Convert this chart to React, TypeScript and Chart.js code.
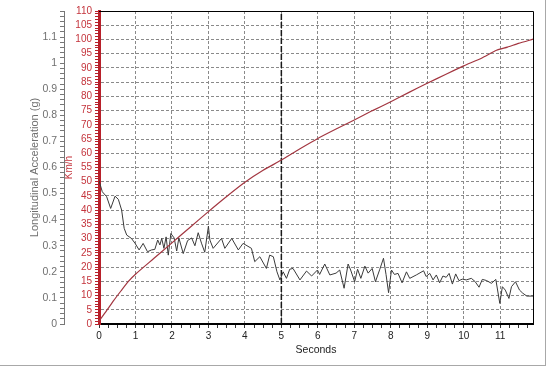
import React, { useEffect, useRef } from "react";
import { Chart, registerables } from "chart.js";

Chart.register(...registerables);

// Longitudinal acceleration (g) vs time (s)
const accelTime = [
  0.0, 0.09, 0.21, 0.32, 0.44, 0.53, 0.62, 0.69, 0.76, 0.89, 0.99, 1.1, 1.21, 1.33, 1.44, 1.53,
  1.61, 1.67, 1.72, 1.78, 1.84, 1.9, 1.97, 2.06, 2.13, 2.19, 2.31, 2.43, 2.54, 2.63, 2.72, 2.81,
  2.9, 3.0, 3.04, 3.13, 3.36, 3.45, 3.64, 3.82, 3.95, 4.18, 4.27, 4.41, 4.59, 4.68, 4.78, 4.88,
  4.96, 5.05, 5.14, 5.23, 5.32, 5.51, 5.69, 5.83, 5.99, 6.05, 6.19, 6.33, 6.5, 6.6, 6.72, 6.83,
  6.9, 7.01, 7.09, 7.18, 7.29, 7.38, 7.49, 7.58, 7.7, 7.8, 7.87, 7.94, 8.02, 8.1, 8.2, 8.31,
  8.43, 8.52, 8.7, 8.9, 8.97, 9.07, 9.16, 9.25, 9.34, 9.43, 9.52, 9.6, 9.69, 9.78, 9.87, 9.96,
  10.07, 10.21, 10.31, 10.42, 10.51, 10.62, 10.76, 10.88, 10.99, 11.06, 11.14, 11.24, 11.31,
  11.42, 11.53, 11.62, 11.73, 11.9,
];
const accelG = [
  0.55, 0.507, 0.488, 0.443, 0.49, 0.478, 0.437, 0.367, 0.341, 0.328, 0.309, 0.284, 0.309, 0.277,
  0.284, 0.286, 0.322, 0.303, 0.328, 0.29, 0.334, 0.264, 0.347, 0.33, 0.28, 0.33, 0.27, 0.32,
  0.33, 0.3, 0.35, 0.31, 0.275, 0.375, 0.322, 0.29, 0.328, 0.29, 0.328, 0.284, 0.309, 0.29, 0.239,
  0.258, 0.213, 0.264, 0.258, 0.2, 0.169, 0.2, 0.175, 0.21, 0.213, 0.169, 0.203, 0.184, 0.207,
  0.19, 0.23, 0.188, 0.195, 0.207, 0.137, 0.23, 0.207, 0.162, 0.21, 0.175, 0.222, 0.195, 0.213,
  0.162, 0.21, 0.252, 0.19, 0.12, 0.207, 0.19, 0.194, 0.158, 0.2, 0.175, 0.188, 0.204, 0.182,
  0.194, 0.169, 0.188, 0.158, 0.184, 0.179, 0.194, 0.153, 0.192, 0.166, 0.172, 0.169, 0.175,
  0.163, 0.141, 0.171, 0.167, 0.156, 0.171, 0.079, 0.143, 0.13, 0.098, 0.143, 0.162, 0.13, 0.118,
  0.107, 0.107,
];

// Speed (km/h) vs time (s)
const speedTime = [
  0, 0.2, 0.4, 0.6, 0.8, 1.0, 1.5, 2.0, 2.5, 3.0, 3.5, 4.0, 4.5, 5.0, 5.5, 6.0, 6.5, 7.0, 7.5,
  8.0, 8.5, 9.0, 9.5, 10.0, 10.5, 10.9, 11.2, 11.5, 11.9,
];
const speedKmh = [
  1, 4.5, 8.2, 11.6, 14.9, 17.5, 23, 28.5, 34, 39.5, 44.8, 49.8, 54, 57.6, 61.5, 65.2, 68.5, 71.7,
  75, 78.1, 81.4, 84.6, 87.7, 90.7, 93.5, 96.2, 97.3, 98.6, 100.1,
];

// Cursor marker
const cursorTime = 5;

// Axis ranges
const timeMax = 11.9;
const gMax = 1.2;
const kmhMax = 110;

const FONT = "'Liberation Sans', Arial, sans-serif";
const RED_TEXT = "#c4343c";
const RED_AXIS = "#b8202a";
const RED_LINE = "#a33640";
const GRID = "#8a8a8a";
const GRAY_TEXT = "#707070";

const isWhole = (v: number, step: number) => Math.abs(v / step - Math.round(v / step)) < 1e-6;

const framePlugin = {
  id: "frame",
  afterDraw(chart: any) {
    const { ctx, chartArea } = chart;
    ctx.save();
    ctx.strokeStyle = "#000";
    ctx.lineWidth = 1;
    ctx.beginPath();
    ctx.moveTo(chartArea.left, chartArea.top + 0.5);
    ctx.lineTo(chartArea.right + 0.5, chartArea.top + 0.5);
    ctx.lineTo(chartArea.right + 0.5, chartArea.bottom);
    ctx.stroke();
    ctx.restore();
  },
};

export default function App() {
  const ref = useRef<HTMLCanvasElement | null>(null);

  useEffect(() => {
    if (!ref.current) return;
    const chart = new Chart(ref.current, {
      type: "line",
      data: {
        datasets: [
          {
            label: "Speed",
            data: speedTime.map((t, i) => ({ x: t, y: speedKmh[i] })),
            yAxisID: "kmh",
            borderColor: RED_LINE,
            borderWidth: 1.2,
            pointRadius: 0,
            tension: 0.2,
          },
          {
            label: "Acceleration",
            data: accelTime.map((t, i) => ({ x: t, y: accelG[i] })),
            yAxisID: "g",
            borderColor: "#3a3a3a",
            borderWidth: 1,
            pointRadius: 0,
            tension: 0,
          },
          {
            label: "Cursor",
            data: [
              { x: cursorTime, y: 0 },
              { x: cursorTime, y: gMax },
            ],
            yAxisID: "g",
            borderColor: "#1a1a1a",
            borderWidth: 1.5,
            borderDash: [6, 2],
            pointRadius: 0,
          },
        ],
      },
      options: {
        animation: false,
        responsive: false,
        layout: { padding: { left: 0, right: 12, top: 11, bottom: 0 } },
        plugins: { legend: { display: false }, tooltip: { enabled: false } },
        scales: {
          x: {
            type: "linear",
            position: "bottom",
            min: 0,
            max: timeMax,
            ticks: {
              stepSize: 0.25,
              maxTicksLimit: 1000,
              autoSkip: false,
              includeBounds: false,
              maxRotation: 0,
              color: "#222",
              padding: 2,
              font: { family: FONT, size: 10 },
              callback: (v: any) => (isWhole(Number(v), 1) ? String(Math.round(Number(v))) : ""),
            },
            grid: {
              color: (c: any) => {
                const v = c.tick ? c.tick.value : undefined;
                return v !== undefined && isWhole(v, 1) && v > 0 ? GRID : "transparent";
              },
              tickColor: "#333",
              tickLength: 4,
              lineWidth: 1,
            },
            border: { display: true, color: "#000", width: 2, dash: [3, 2] },
            title: {
              display: true,
              text: "Seconds",
              color: "#222",
              font: { family: FONT, size: 10.5 },
              padding: { top: 0, bottom: 9 },
            },
            afterFit: (s: any) => {
              s.height = 41;
            },
          },
          kmh: {
            type: "linear",
            position: "left",
            weight: 0,
            min: 0,
            max: kmhMax,
            ticks: {
              stepSize: 1,
              maxTicksLimit: 1000,
              autoSkip: false,
              includeBounds: false,
              color: RED_TEXT,
              padding: 3,
              font: { family: FONT, size: 10 },
              callback: (v: any) => (isWhole(Number(v), 5) ? String(Math.round(Number(v))) : ""),
            },
            grid: {
              color: (c: any) => {
                const v = c.tick ? c.tick.value : undefined;
                return v !== undefined && isWhole(v, 5) && v > 0 && v < kmhMax ? GRID : "transparent";
              },
              tickColor: RED_AXIS,
              tickLength: 4,
              lineWidth: 1,
            },
            border: { display: true, color: RED_AXIS, width: 3, dash: [3, 2] },
            title: {
              display: true,
              text: "Km/h",
              color: RED_TEXT,
              font: { family: FONT, size: 10, lineHeight: 1 },
              padding: 0,
            },
            afterFit: (s: any) => {
              s.width = 35;
            },
          },
          g: {
            type: "linear",
            position: "left",
            weight: 1,
            min: 0,
            max: gMax,
            ticks: {
              stepSize: 0.02,
              maxTicksLimit: 1000,
              autoSkip: false,
              includeBounds: false,
              color: GRAY_TEXT,
              padding: 3,
              font: { family: FONT, size: 10.5 },
              callback: (v: any) => {
                const k = Math.round(Number(v) * 100);
                return k % 10 === 0 && k < 120 ? String(k / 100) : "";
              },
            },
            grid: {
              drawOnChartArea: false,
              color: "#777",
              tickColor: "#777",
              tickLength: 4,
            },
            border: { display: true, color: "#777", width: 1 },
            title: {
              display: true,
              text: "Longitudinal Acceleration (g)",
              color: GRAY_TEXT,
              font: { family: FONT, size: 11 },
              padding: { top: 28, bottom: 0 },
            },
            afterFit: (s: any) => {
              s.width = 64;
            },
          },
        },
      } as any,
      plugins: [framePlugin],
    });
    return () => chart.destroy();
  }, []);

  return (
    <div
      style={{
        position: "absolute",
        left: 0,
        top: 0,
        width: 546,
        height: 366,
        boxSizing: "border-box",
        borderRight: "1px solid #a8a8a8",
        borderBottom: "1px solid #a8a8a8",
        background: "#fff",
      }}
    >
      <canvas ref={ref} width={545} height={365} style={{ display: "block" }} />
    </div>
  );
}
